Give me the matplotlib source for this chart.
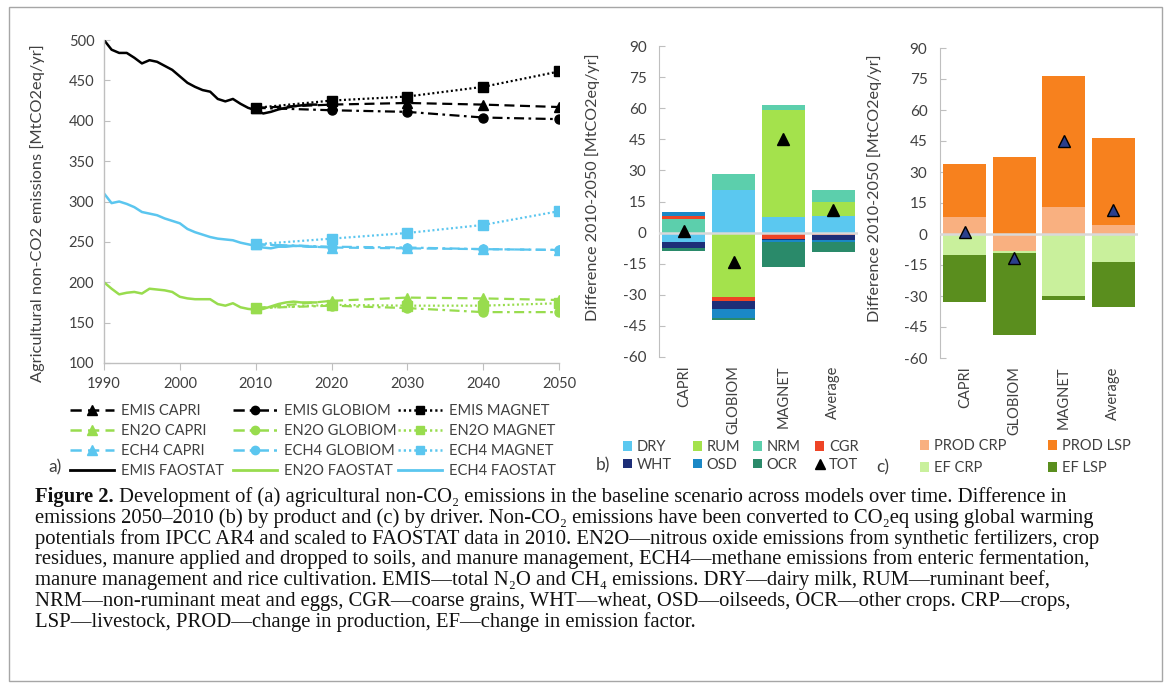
import matplotlib
matplotlib.use('Agg')
import matplotlib.pyplot as plt
from matplotlib.lines import Line2D
from matplotlib.patches import Patch, Rectangle

plt.rcParams['font.family'] = ['Lato', 'DejaVu Sans']

# ---------------- data: panel a ----------------
fao_years = list(range(1990, 2019))
emis_fao = [500, 488, 484, 484, 478, 471, 475, 473, 468, 463, 455, 447, 442, 438, 436,
            427, 424, 427, 421, 416, 413, 409, 411, 414, 416, 418, 419, 420, 420]
en2o_fao = [200, 192, 185, 187, 188, 186, 192, 191, 190, 188, 182, 180, 179, 179, 179,
            173, 171, 174, 169, 167, 166, 167, 170, 173, 175, 176, 175, 175, 175]
ech4_fao = [310, 298, 300, 297, 293, 287, 285, 283, 279, 276, 273, 266, 262, 259, 256,
            254, 253, 252, 249, 247, 245, 243, 242, 244, 244, 245, 245, 244, 244]

model_years = [2010, 2020, 2030, 2040, 2050]
emis_capri = [416, 420, 422, 420, 417]
emis_globiom = [416, 413, 411, 404, 402]
emis_magnet = [416, 425, 430, 442, 461]
en2o_capri = [168, 177, 181, 180, 178]
en2o_globiom = [168, 171, 168, 163, 163]
en2o_magnet = [168, 172, 171, 171, 174]
ech4_capri = [247, 243, 242, 241, 240]
ech4_globiom = [247, 244, 243, 241, 240]
ech4_magnet = [247, 254, 261, 271, 288]

# ---------------- data: panel b ----------------
bar_models = ['CAPRI', 'GLOBIOM', 'MAGNET', 'Average']
dry = [-4.7, 20.6, 7.7, 7.9]
rum = [0.0, -31.3, 51.6, 7.1]
nrm = [6.6, 7.8, 2.1, 5.4]
cgr = [1.6, -1.9, -3.0, -1.3]
wht = [-2.7, -3.7, -0.8, -2.2]
osd = [1.6, -4.1, -0.5, -0.8]
ocr = [-1.3, -1.2, -12.1, -5.0]
tot_b = [1.0, -14.0, 45.0, 10.8]

# ---------------- data: panel c ----------------
prod_crp = [8.0, -8.0, 13.1, 4.4]
prod_lsp = [26.0, 37.1, 63.4, 42.1]
ef_crp = [-10.0, -1.0, -29.8, -13.6]
ef_lsp = [-23.0, -40.0, -2.0, -21.8]
tot_c = [0.8, -11.5, 45.0, 11.7]

# ---------------- styling ----------------
W, H = 1168, 686
BLACK = '#000000'
GREEN = '#98dc4e'
CYAN = '#5bc6ef'
SPINE = '#bfbfbf'
TXT = '#404040'

fig = plt.figure(figsize=(W / 100, H / 100), dpi=100)


def fx(px):
    return px / W


def fy(py):
    return 1 - py / H


def rect(l, t, r, b):
    return [fx(l), fy(b), fx(r) - fx(l), fy(t) - fy(b)]


# ---------------- panel a ----------------
axa = fig.add_axes(rect(104, 40, 559, 363))
axa.plot(fao_years, emis_fao, color=BLACK, lw=1.8)
axa.plot(fao_years, en2o_fao, color=GREEN, lw=1.8)
axa.plot(fao_years, ech4_fao, color=CYAN, lw=1.8)

dash_c = (4.5, 2.5)
dash_g = (4.5, 2.0, 1.2, 2.0)
dash_m = (0.9, 1.2)
for col, cap, glo, mag in [(BLACK, emis_capri, emis_globiom, emis_magnet),
                           (GREEN, en2o_capri, en2o_globiom, en2o_magnet),
                           (CYAN, ech4_capri, ech4_globiom, ech4_magnet)]:
    axa.plot(model_years, cap, color=col, lw=1.6, dashes=dash_c, marker='^', ms=7)
    axa.plot(model_years, glo, color=col, lw=1.6, dashes=dash_g, marker='o', ms=6.5)
    axa.plot(model_years, mag, color=col, lw=1.6, dashes=dash_m, marker='s', ms=6.5)

axa.set_xlim(1990, 2050)
axa.set_ylim(100, 500)
axa.set_xticks(range(1990, 2051, 10))
axa.set_yticks(range(100, 501, 50))
for s in ['top', 'right']:
    axa.spines[s].set_visible(False)
for s in ['left', 'bottom']:
    axa.spines[s].set_color(SPINE)
    axa.spines[s].set_linewidth(1.0)
axa.tick_params(axis='x', direction='out', length=5, color=SPINE, labelsize=10.5,
                labelcolor=TXT, pad=5)
axa.tick_params(axis='y', direction='in', length=4, color=SPINE, labelsize=10.5,
                labelcolor=TXT, pad=7)
axa.set_ylabel('Agricultural non-CO2 emissions [MtCO2eq/yr]', fontsize=11.8, color=TXT)
axa.yaxis.set_label_coords(-0.13, 0.464)


# ---------------- stacked bars helper ----------------
def stacked(ax, series, colors):
    pos = [0.0] * len(bar_models)
    neg = [0.0] * len(bar_models)
    xs = list(range(len(bar_models)))
    for vals, c in zip(series, colors):
        bottoms = []
        for i, v in enumerate(vals):
            if v >= 0:
                bottoms.append(pos[i])
                pos[i] += v
            else:
                bottoms.append(neg[i])
                neg[i] += v
        ax.bar(xs, vals, bottom=bottoms, width=0.86, color=c, linewidth=0, zorder=2)
    ax.axhline(0, color='#d9d9d9', lw=1.8, zorder=3)
    ax.set_xlim(-0.5, 3.5)
    ax.set_ylim(-60, 90)
    ax.set_xticks(xs)
    ax.set_xticklabels(bar_models, rotation=90, va='top', ha='center')
    ticks = list(range(-60, 91, 15))
    ax.set_yticks(ticks)
    ax.set_yticklabels([str(t) for t in ticks])
    for s in ['top', 'right', 'bottom']:
        ax.spines[s].set_visible(False)
    ax.spines['left'].set_color(SPINE)
    ax.tick_params(axis='x', length=0, pad=6, labelsize=10.5, labelcolor=TXT)
    ax.tick_params(axis='y', direction='in', length=4, color=SPINE, labelsize=11,
                   labelcolor=TXT, pad=9)
    ax.set_ylabel('Difference 2010-2050 [MtCO2eq/yr]', fontsize=11.6, color=TXT)


b_colors = ['#5bc8f0', '#a4e24c', '#5ccfac', '#ee4426', '#1d2e78', '#1a88c6', '#2a8a6a']
axb = fig.add_axes(rect(659, 46, 858, 357))
stacked(axb, [dry, rum, nrm, cgr, wht, osd, ocr], b_colors)
axb.plot(range(4), tot_b, linestyle='none', marker='^', ms=9, color='black', zorder=4)
axb.yaxis.set_label_coords(-0.296, 0.545)

c_colors = ['#f9b080', '#f7811e', '#c9f09c', '#5a8e1e']
axc = fig.add_axes(rect(940, 48, 1138, 358))
stacked(axc, [prod_crp, prod_lsp, ef_crp, ef_lsp], c_colors)
axc.plot(range(4), tot_c, linestyle='none', marker='^', ms=9, markerfacecolor='#2b3f8c',
         markeredgecolor='black', markeredgewidth=1.0, zorder=4)
axc.yaxis.set_label_coords(-0.293, 0.548)


# ---------------- legends ----------------
def put_legend(handles, labels, x, y, fs, hl, hh, tp, ls):
    lg = fig.legend(handles, labels, loc='upper left', bbox_to_anchor=(fx(x), fy(y)),
                    bbox_transform=fig.transFigure, frameon=False, borderpad=0,
                    borderaxespad=0, handlelength=hl, handleheight=hh,
                    handletextpad=tp, labelspacing=ls, fontsize=fs, numpoints=1)
    for t in lg.get_texts():
        t.set_color(TXT)
    return lg


def ln(col, dashes=None, marker=None, ms=6):
    if dashes is None:
        return Line2D([], [], color=col, lw=2.0)
    return Line2D([], [], color=col, lw=1.8, dashes=dashes, marker=marker, ms=ms)


cols_a = [
    ([ln(BLACK, dash_c, '^', 7), ln(GREEN, dash_c, '^', 7), ln(CYAN, dash_c, '^', 7), ln(BLACK)],
     ['EMIS CAPRI', 'EN2O CAPRI', 'ECH4 CAPRI', 'EMIS FAOSTAT'], 70),
    ([ln(BLACK, dash_g, 'o', 6), ln(GREEN, dash_g, 'o', 6), ln(CYAN, dash_g, 'o', 6), ln(GREEN)],
     ['EMIS GLOBIOM', 'EN2O GLOBIOM', 'ECH4 GLOBIOM', 'EN2O FAOSTAT'], 233),
    ([ln(BLACK, dash_m, 's', 6), ln(GREEN, dash_m, 's', 6), ln(CYAN, dash_m, 's', 6), ln(CYAN)],
     ['EMIS MAGNET', 'EN2O MAGNET', 'ECH4 MAGNET', 'ECH4 FAOSTAT'], 398),
]
for hs, lbs, x in cols_a:
    put_legend(hs, lbs, x, 404, 10.5, 3.0, 0.7, 0.5, 0.42)


def sq(c):
    return Patch(facecolor=c, edgecolor='none')


tri_b = Line2D([], [], linestyle='none', marker='^', color='black', ms=7)
cols_b = [
    ([sq(b_colors[0]), sq(b_colors[4])], ['DRY', 'WHT'], 623),
    ([sq(b_colors[1]), sq(b_colors[5])], ['RUM', 'OSD'], 693),
    ([sq(b_colors[2]), sq(b_colors[6])], ['NRM', 'OCR'], 753),
    ([sq(b_colors[3]), tri_b], ['CGR', 'TOT'], 815),
]
for hs, lbs, x in cols_b:
    put_legend(hs, lbs, x, 440, 10.5, 0.65, 0.65, 0.3, 0.25)

cols_c = [
    ([sq(c_colors[0]), sq(c_colors[2])], ['PROD CRP', 'EF CRP'], 920),
    ([sq(c_colors[1]), sq(c_colors[3])], ['PROD LSP', 'EF LSP'], 1048),
]
for hs, lbs, x in cols_c:
    put_legend(hs, lbs, x, 439, 10.5, 0.65, 0.65, 0.3, 0.55)

fig.text(fx(55), fy(467), 'a)', fontsize=12.5, color=TXT, ha='center', va='center')
fig.text(fx(603), fy(465), 'b)', fontsize=12.5, color=TXT, ha='center', va='center')
fig.text(fx(883), fy(467), 'c)', fontsize=12.5, color=TXT, ha='center', va='center')

# ---------------- caption ----------------
cap_title = 'Figure 2.'
caption = [
    'Development of (a) agricultural non-CO\u2082 emissions in the baseline scenario across models over time. Difference in',
    'emissions 2050\u20132010 (b) by product and (c) by driver. Non-CO\u2082 emissions have been converted to CO\u2082eq using global warming',
    'potentials from IPCC AR4 and scaled to FAOSTAT data in 2010. EN2O\u2014nitrous oxide emissions from synthetic fertilizers, crop',
    'residues, manure applied and dropped to soils, and manure management, ECH4\u2014methane emissions from enteric fermentation,',
    'manure management and rice cultivation. EMIS\u2014total N\u2082O and CH\u2084 emissions. DRY\u2014dairy milk, RUM\u2014ruminant beef,',
    'NRM\u2014non-ruminant meat and eggs, CGR\u2014coarse grains, WHT\u2014wheat, OSD\u2014oilseeds, OCR\u2014other crops. CRP\u2014crops,',
    'LSP\u2014livestock, PROD\u2014change in production, EF\u2014change in emission factor.',
]
CAP_FS = 14.9
CAP_FAM = ['Liberation Serif', 'DejaVu Serif']
x0 = 35
title_t = fig.text(fx(x0), fy(502), cap_title, fontsize=CAP_FS, family=CAP_FAM,
                   fontweight='bold', color='#111111', ha='left', va='baseline')
renderer = fig.canvas.get_renderer()
tw = title_t.get_window_extent(renderer=renderer).width
for i, line in enumerate(caption):
    xs = x0 + tw + 5 if i == 0 else x0
    fig.text(fx(xs), fy(502 + i * 20.8), line, fontsize=CAP_FS, family=CAP_FAM,
             color='#111111', ha='left', va='baseline')

fig.add_artist(Rectangle((fx(9), fy(681)), fx(1162) - fx(9), fy(7) - fy(681),
                         transform=fig.transFigure, fill=False, edgecolor='#a6a6a6', lw=1.0))

fig.savefig('out.png', dpi=100)
